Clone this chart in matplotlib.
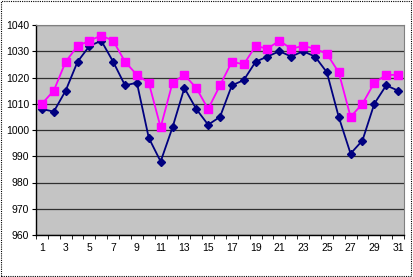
import numpy as np
import matplotlib.pyplot as plt
from matplotlib.patches import Rectangle

days = list(range(1, 32))
pink = [1010, 1015, 1026, 1032, 1034, 1036, 1034, 1026, 1021, 1018,
        1001, 1018, 1021, 1016, 1008, 1017, 1026, 1025, 1032, 1031,
        1034, 1031, 1032, 1031, 1029, 1022, 1005, 1010, 1018, 1021, 1021]
navy = [1008, 1007, 1015, 1026, 1032, 1034, 1026, 1017, 1018, 997,
        988, 1001, 1016, 1008, 1002, 1005, 1017, 1019, 1026, 1028,
        1030, 1028, 1030, 1028, 1022, 1005, 991, 996, 1010, 1017, 1015]
yticks = list(range(960, 1041, 10))

plt.rcParams['font.family'] = ['Liberation Sans', 'DejaVu Sans']
plt.rcParams['hatch.color'] = '#8c8c8c'
plt.rcParams['hatch.linewidth'] = 0.5

fig = plt.figure(figsize=(4.13, 2.77), dpi=100)
ax = fig.add_axes([36/413, 1-235/277, 368/413, 210/277])

# dotted border round the whole picture
fig.patches.append(Rectangle((0.002, 0.004), 0.994, 0.992, transform=fig.transFigure,
                             fill=False, ec='black', lw=0.8, ls=(0, (1, 1))))

# dotted grey plot area like the old excel pattern fill
ax.set_facecolor('#c4c4c4')
ax.patch.set_hatch('....')

ax.plot(days, navy, color='#000080', marker='D', ms=4.5, lw=1.3, zorder=3)
ax.plot(days, pink, color='#ff00ff', marker='s', ms=6, lw=1.3, zorder=4)

ax.set_xlim(0.5, 31.5)
ax.set_ylim(960, 1040)
ax.set_yticks(yticks)
ax.set_xticks(days[::2])
ax.set_xticks(np.arange(0.5, 32, 1), minor=True)
ax.tick_params(axis='x', which='major', length=0, pad=6, labelsize=7.5, colors='#000000')
ax.tick_params(axis='x', which='minor', length=3, direction='out')
ax.tick_params(axis='y', length=3, direction='out', labelsize=7.5, pad=2)
ax.yaxis.grid(True, color='#303030', lw=0.9)
ax.set_axisbelow(True)
for s in ['top', 'right']:
    ax.spines[s].set_color('#808080')
for s in ['left', 'bottom']:
    ax.spines[s].set_color('black')
    ax.spines[s].set_linewidth(1)

fig.savefig('out.png', dpi=100)
